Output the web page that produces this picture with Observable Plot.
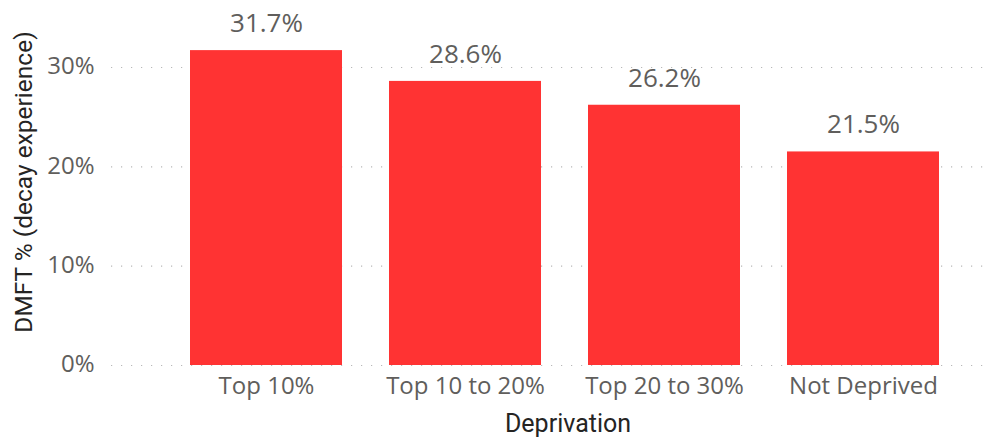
<!DOCTYPE html>
<html>
<head>
<meta charset="utf-8">
<script src="https://cdn.jsdelivr.net/npm/d3@7"></script>
<script src="https://cdn.jsdelivr.net/npm/@observablehq/plot@0.6"></script>
<style>
  html, body { margin: 0; padding: 0; background: #fff; }
  #chart svg { display: block; }
</style>
</head>
<body>
<div id="chart"></div>
<script>
const categories = ["Top 10%", "Top 10 to 20%", "Top 20 to 30%", "Not Deprived"];
const values = [0.317, 0.286, 0.262, 0.215];
const yTicks = [0, 0.1, 0.2, 0.3];

const data = categories.map((c, i) => ({category: c, value: values[i]}));
const pct1 = d3.format(".1%");
const pct0 = d3.format(".0%");

const chart = Plot.plot({
  width: 992,
  height: 438,
  marginLeft: 111,
  marginRight: 4,
  marginTop: 0,
  marginBottom: 73,
  style: {fontFamily: "'Open Sans', 'Noto Sans', sans-serif", background: "#fff"},
  x: {domain: categories, range: [190, 940], paddingInner: 0.235, paddingOuter: 0, label: null},
  y: {domain: [0, 0.3], range: [365, 67], label: null},
  marks: [
    Plot.ruleY(yTicks, {stroke: "#b8b8b8", strokeWidth: 1.2, strokeDasharray: "1.2,8.8"}),
    Plot.barY(data, {x: "category", y: "value", fill: "#FF3333"}),
    Plot.text(data, {x: "category", y: "value", text: d => pct1(d.value), dy: -27,
      fontSize: 26, fill: "#605E5C", textAnchor: "middle"}),
    Plot.axisY({ticks: yTicks, tickFormat: pct0, tickSize: 0, tickPadding: 0, anchor: "left",
      fontSize: 24, color: "#605E5C", dx: -17, dy: -1, label: null}),
    Plot.axisX({tickSize: 0, tickPadding: 11, fontSize: 24, color: "#605E5C", label: null}),
    Plot.text(["Deprivation"], {frameAnchor: "bottom", dx: 18, dy: 66, fontSize: 25, fill: "#252423",
      fontFamily: "Roboto, sans-serif"}),
    Plot.text(["DMFT % (decay experience)"], {frameAnchor: "left", textAnchor: "middle", rotate: -90, fontSize: 24.5,
      fill: "#252423", fontFamily: "Roboto, sans-serif", dx: -87, dy: -1})
  ]
});
document.getElementById("chart").appendChild(chart);
</script>
</body>
</html>
